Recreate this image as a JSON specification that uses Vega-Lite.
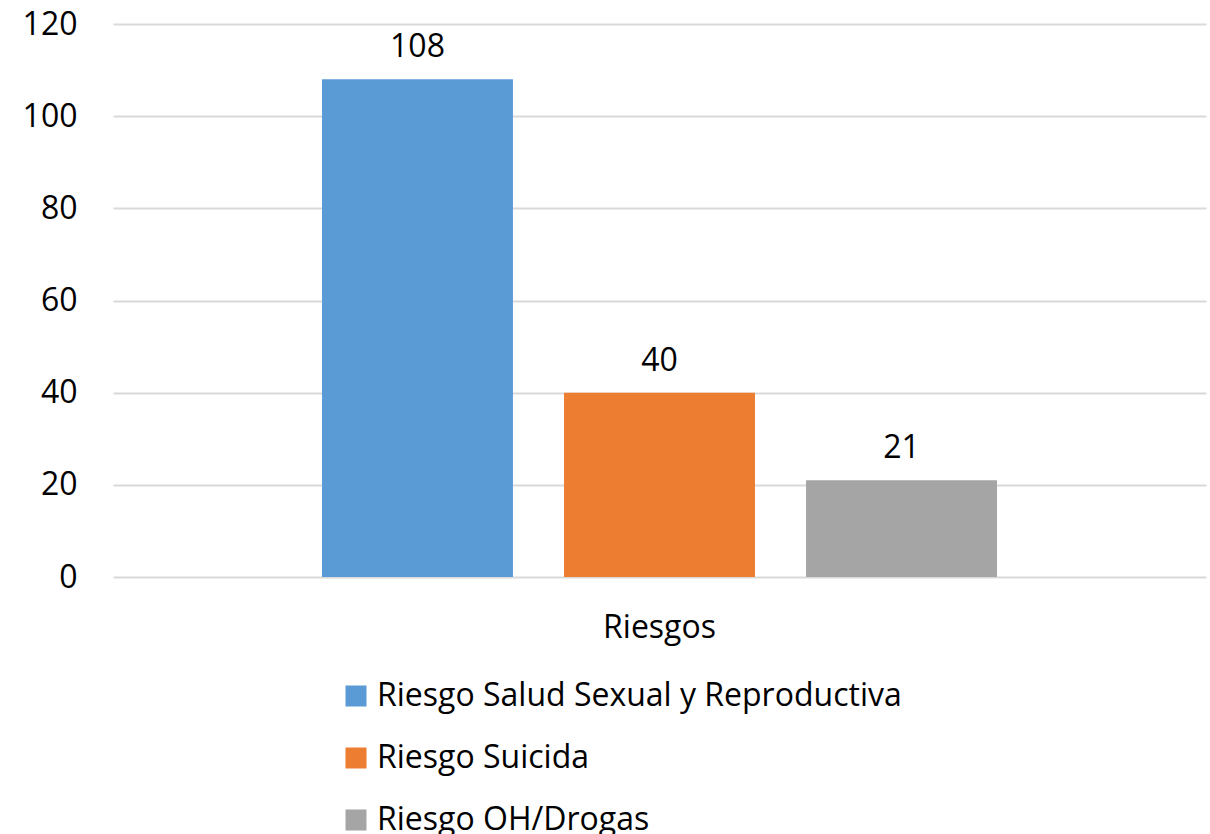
{
  "$schema": "https://vega.github.io/schema/vega-lite/v6.json",
  "width": 1093,
  "height": 553,
  "autosize": {"type": "none"},
  "padding": {"left": 113, "top": 24, "right": 4, "bottom": 257},
  "background": "white",
  "config": {
    "view": {"stroke": null},
    "font": "Open Sans",
    "axis": {"labelFont": "Open Sans", "labelColor": "#000000", "labelFontSize": 32},
    "legend": {"labelFont": "Open Sans", "labelColor": "#000000", "labelFontSize": 32}
  },
  "data": {
    "values": [
      {"grupo": "Riesgos", "serie": "Riesgo Salud Sexual y Reproductiva", "valor": 108},
      {"grupo": "Riesgos", "serie": "Riesgo Suicida", "valor": 40},
      {"grupo": "Riesgos", "serie": "Riesgo OH/Drogas", "valor": 21}
    ]
  },
  "encoding": {
    "x": {
      "field": "grupo",
      "type": "nominal",
      "scale": {"paddingInner": 0, "paddingOuter": 0},
      "axis": {
        "title": null,
        "labelAngle": 0,
        "ticks": false,
        "domain": false,
        "labelBaseline": "alphabetic",
        "labelPadding": 60
      }
    },
    "xOffset": {
      "field": "serie",
      "type": "nominal",
      "sort": ["Riesgo Salud Sexual y Reproductiva", "Riesgo Suicida", "Riesgo OH/Drogas"],
      "scale": {"paddingInner": 0.211, "paddingOuter": 0.8636}
    },
    "y": {
      "field": "valor",
      "type": "quantitative",
      "scale": {"domain": [0, 120]},
      "axis": {
        "title": null,
        "values": [0, 20, 40, 60, 80, 100, 120],
        "ticks": false,
        "domain": false,
        "labelPadding": 36,
        "labelBaseline": "middle",
        "gridColor": "#d9d9d9",
        "gridWidth": 2
      }
    }
  },
  "layer": [
    {
      "mark": {"type": "bar"},
      "encoding": {
        "color": {
          "field": "serie",
          "type": "nominal",
          "sort": ["Riesgo Salud Sexual y Reproductiva", "Riesgo Suicida", "Riesgo OH/Drogas"],
          "scale": {
            "domain": ["Riesgo Salud Sexual y Reproductiva", "Riesgo Suicida", "Riesgo OH/Drogas"],
            "range": ["#5b9bd5", "#ed7d31", "#a5a5a5"]
          },
          "legend": {
            "title": null,
            "orient": "none",
            "legendX": 227,
            "legendY": 656,
            "direction": "vertical",
            "symbolType": "square",
            "symbolSize": 441,
            "symbolStrokeWidth": 0,
            "labelOffset": 5,
            "labelLimit": 0,
            "rowPadding": 30,
            "padding": 0
          }
        }
      }
    },
    {
      "mark": {"type": "text", "baseline": "alphabetic", "dy": -22, "fontSize": 32, "font": "Open Sans", "color": "#000000"},
      "encoding": {
        "text": {"field": "valor", "type": "quantitative"}
      }
    }
  ]
}
